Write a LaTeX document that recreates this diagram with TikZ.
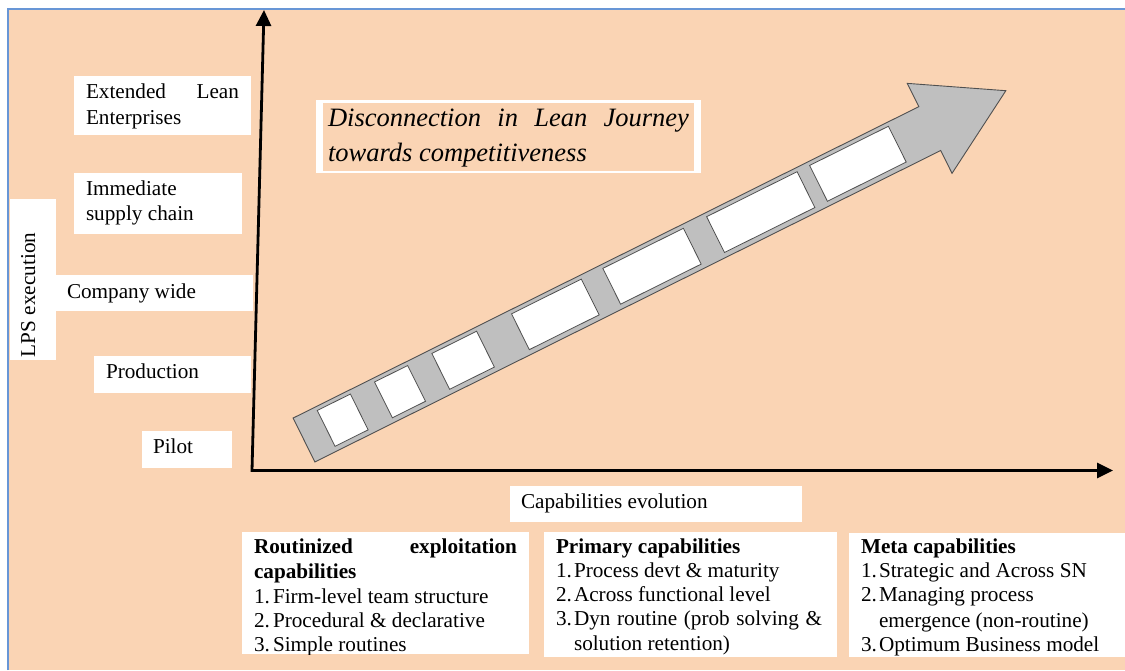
\documentclass[tikz,border=0pt]{standalone}
\usepackage{fontspec}
\setmainfont{Liberation Serif}
\usetikzlibrary{arrows.meta}
\definecolor{peach}{RGB}{250,212,180}
\definecolor{frameblue}{RGB}{104,150,214}
\definecolor{arrowgray}{RGB}{191,191,191}
\definecolor{edgegray}{RGB}{80,80,80}
\tikzset{
  lbl/.style={inner sep=0pt, outer sep=0pt, anchor=base west, font=\fontsize{21.2}{26}\selectfont},
  listtxt/.style={lbl, font=\fontsize{21.2}{24.5}\selectfont},
  titletxt/.style={lbl, font=\fontsize{26.5}{35}\selectfont\itshape},
  whitebox/.style={fill=white},
  axis/.style={line width=2.8pt, line join=miter, {Triangle[length=16pt,width=15pt]}-{Triangle[length=16pt,width=15pt]}},
  slot/.style={fill=white, draw=edgegray, line width=0.8pt}
}
\begin{document}
\begin{tikzpicture}[x=1pt,y=-1pt]
\useasboundingbox (0,0) rectangle (1125,670);
\fill[white] (0,0) rectangle (1125,670);
% canvas
\fill[peach] (8,9) rectangle (1125,670);
\draw[frameblue, line width=1.7pt] (8,670) -- (8,9) -- (1125,9);

% level labels on the vertical axis
\fill[whitebox] (74,76) rectangle (251,135);
\node (ext1) [lbl] at (86,98) {Extended};
\node (ext2) [lbl, anchor=base east] at (239,98) {Lean};
\node (ext3) [lbl] at (86,124) {Enterprises};

\fill[whitebox] (74,173) rectangle (242,234);
\node (imm1) [lbl] at (86,195) {Immediate};
\node (imm2) [lbl] at (86,220) {supply chain};

\fill[whitebox] (10,199) rectangle (56,360);
\node (lps) [lbl, rotate=90] at (35,357) {LPS execution};

\fill[whitebox] (56,275) rectangle (253,311);
\node (comp) [lbl] at (67,298) {Company wide};

\fill[whitebox] (94,356) rectangle (251,393);
\node (prod) [lbl] at (106,378) {Production};

\fill[whitebox] (142,431) rectangle (232,468);
\node (pilot) [lbl] at (153,453) {Pilot};

% axes
\coordinate (O) at (252,470.5);
\coordinate (ytip) at (264,10);
\coordinate (xtip) at (1113,470.5);
\draw[axis] (ytip) -- (O) -- (xtip);

% title
\fill[white] (316,100) rectangle (701,173);
\fill[peach] (323,103) rectangle (694,171);
\node (t1) [titletxt] at (328,126) {\makebox[361pt][s]{Disconnection in Lean Journey}};
\node (t2) [titletxt] at (328,161) {towards competitiveness};

% rising journey arrow with its slots
\begin{scope}[shift={(304,440)}, rotate=26.46]
  \draw[fill=arrowgray, draw=edgegray, line width=0.9pt, line join=miter]
    (0,-24.5) -- (699,-24.5) -- (699,-50.5) -- (784,0) -- (699,50) -- (699,24.5) -- (0,24.5) -- cycle;
  \foreach \a/\b in {25/62, 89/126, 153/203, 242/320, 344/434, 460/561, 575/663}
    \draw[slot] (\a,-20.5) rectangle (\b,19.5);
\end{scope}

% horizontal axis label
\fill[whitebox] (510,486) rectangle (802,522);
\node (cap) [lbl] at (521,508) {Capabilities evolution};

% capability boxes
\fill[whitebox] (242,532) rectangle (529,654);
\begin{scope}
  \clip (242,532) rectangle (529,654);
  \node (r0) [listtxt, font=\fontsize{21.2}{24.5}\selectfont\bfseries] at (254,553) {\makebox[263pt][s]{Routinized exploitation}};
  \node (r1) [listtxt, font=\fontsize{21.2}{24.5}\selectfont\bfseries] at (254,578) {capabilities};
  \node (r2n) [listtxt] at (254,603) {1.};
  \node (r2) [listtxt] at (273,603) {Firm-level team structure};
  \node (r3n) [listtxt] at (254,627) {2.};
  \node (r3) [listtxt] at (273,627) {Procedural \& declarative};
  \node (r4n) [listtxt] at (254,651) {3.};
  \node (r4) [listtxt] at (273,651) {Simple routines};
\end{scope}

\fill[whitebox] (544,532) rectangle (837,657);
\node (p0) [listtxt, font=\fontsize{21.2}{24.5}\selectfont\bfseries] at (556,553) {Primary capabilities};
\node (p1n) [listtxt] at (556,577) {1.};
\node (p1) [listtxt] at (574,577) {Process devt \& maturity};
\node (p2n) [listtxt] at (556,601) {2.};
\node (p2) [listtxt] at (574,601) {Across functional level};
\node (p3n) [listtxt] at (556,625) {3.};
\node (p3) [listtxt] at (574,625) {\makebox[248pt][s]{Dyn routine (prob solving \&}};
\node (p4) [listtxt] at (574,650) {solution retention)};

\fill[whitebox] (849,533) rectangle (1125,657);
\node (m0) [listtxt, font=\fontsize{21.2}{24.5}\selectfont\bfseries] at (861,553) {Meta capabilities};
\node (m1n) [listtxt] at (861,577) {1.};
\node (m1) [listtxt] at (879,577) {Strategic and Across SN};
\node (m2n) [listtxt] at (861,601) {2.};
\node (m2) [listtxt] at (879,601) {Managing process};
\node (m3) [listtxt] at (879,627) {emergence (non-routine)};
\node (m4n) [listtxt] at (861,651) {3.};
\node (m4) [listtxt] at (879,651) {Optimum Business model};
\end{tikzpicture}
\end{document}
